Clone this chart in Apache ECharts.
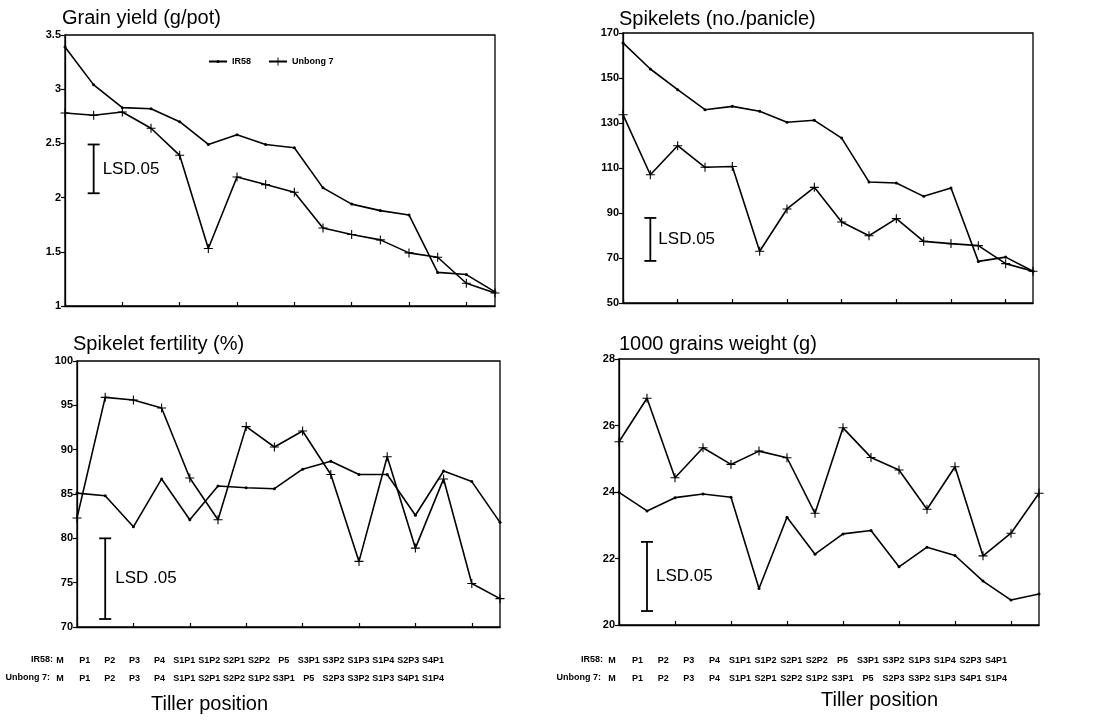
<!DOCTYPE html>
<html>
<head>
<meta charset="utf-8">
<script src="https://cdn.jsdelivr.net/npm/echarts@6/dist/echarts.min.js"></script>
<style>html,body{margin:0;padding:0;background:#fff;}#c{width:1099px;height:720px;}</style>
</head>
<body>
<div id="c"></div>
<script>
// ---- data ----
const tillerIR58 = ['M','P1','P2','P3','P4','S1P1','S1P2','S2P1','S2P2','P5','S3P1','S3P2','S1P3','S1P4','S2P3','S4P1'];
const tillerUnbong = ['M','P1','P2','P3','P4','S1P1','S2P1','S2P2','S1P2','S3P1','P5','S2P3','S3P2','S1P3','S4P1','S1P4'];
const seriesNames = ['IR58', 'Unbong 7'];

const yieldIR58 = [3.39,3.04,2.83,2.82,2.70,2.49,2.58,2.49,2.46,2.09,1.94,1.88,1.84,1.31,1.29,1.13];
const yieldUnbong = [2.78,2.76,2.79,2.64,2.39,1.53,2.19,2.12,2.05,1.72,1.66,1.61,1.49,1.45,1.21,1.12];
const spikeletsIR58 = [165.6,154,144.8,135.9,137.4,135.2,130.3,131.2,123.3,103.8,103.3,97.4,101.1,68.5,70.4,64.1];
const spikeletsUnbong = [133.7,107,119.9,110.3,110.7,73,91.8,101.4,86,79.9,87.5,77.4,76.4,75.5,67.5,64.1];
const fertilityIR58 = [85.1,84.8,81.3,86.7,82.1,85.9,85.7,85.6,87.8,88.7,87.2,87.2,82.6,87.6,86.4,81.8];
const fertilityUnbong = [82.3,95.9,95.6,94.7,86.8,82.1,92.6,90.3,92.1,87.2,77.4,89.2,78.9,86.7,74.9,73.2];
const grainWtIR58 = [23.99,23.43,23.83,23.94,23.84,21.1,23.24,22.13,22.74,22.84,21.75,22.34,22.09,21.32,20.75,20.93];
const grainWtUnbong = [25.51,26.82,24.43,25.33,24.83,25.23,25.03,23.36,25.93,25.04,24.66,23.48,24.76,22.08,22.76,23.96];

// LSD bars: [category index, low, high]
const lsdYield = [1, 2.04, 2.49];
const lsdSpikelets = [1, 68.7, 87.8];
const lsdFertility = [1, 70.9, 80.0];
const lsdGrainWt = [1, 20.42, 22.5];

const titles = ['Grain yield (g/pot)', 'Spikelets (no./panicle)', 'Spikelet fertility (%)', '1000 grains weight (g)'];
const yRanges = [[1, 3.5, 0.5], [50, 170, 20], [70, 100, 5], [20, 28, 2]];
const rowHeaders = ['IR58:', 'Unbong 7:'];
const xAxisTitle = 'Tiller position';

// ---- chart ----
const FONT = 'Liberation Sans, Arial, sans-serif';
const plusPath = 'path://M4.4,0H5.6V4.4H10V5.6H5.6V10H4.4V5.6H0V4.4H4.4Z';

const grids = [
  {left: 65, top: 35, width: 430, height: 271},
  {left: 623, top: 33, width: 410, height: 270},
  {left: 77, top: 361, width: 423, height: 266},
  {left: 619, top: 359, width: 420, height: 266},
  // label tables
  {left: 60, top: 651, width: 373, height: 1},
  {left: 612, top: 651, width: 384, height: 1}
];

const xAxes = [], yAxes = [];
for (let i = 0; i < 4; i++) {
  xAxes.push({
    gridIndex: i, type: 'category', data: tillerIR58, boundaryGap: false,
    axisLine: {lineStyle: {color: '#000', width: 1.3}},
    axisTick: {inside: true, length: 4, lineStyle: {color: '#000', width: 1.2}},
    axisLabel: {show: false}, splitLine: {show: false}
  });
  yAxes.push({
    gridIndex: i, type: 'value', min: yRanges[i][0], max: yRanges[i][1], interval: yRanges[i][2],
    axisLine: {show: true, lineStyle: {color: '#000', width: 1.3}},
    axisTick: {show: true, length: 4, lineStyle: {color: '#000', width: 1.2}},
    axisLabel: {color: '#000', fontSize: 11, fontWeight: 'bold', fontFamily: FONT, margin: 4},
    splitLine: {show: false}
  });
}
for (let g = 4; g < 6; g++) {
  xAxes.push({
    gridIndex: g, type: 'category', boundaryGap: false,
    data: tillerIR58.map((v, k) => v + '\n' + tillerUnbong[k]),
    axisLine: {show: false}, axisTick: {show: false},
    axisLabel: {interval: 0, color: '#000', fontSize: 9, fontWeight: 'bold', fontFamily: FONT, lineHeight: 18, margin: 0}
  });
  yAxes.push({gridIndex: g, type: 'value', show: false});
}

function lineSeries(name, gi, data) {
  const isIR = name === 'IR58';
  return {
    name: name, type: 'line', xAxisIndex: gi, yAxisIndex: gi, data: data,
    symbol: isIR ? 'circle' : plusPath, symbolSize: isIR ? 3 : 9,
    lineStyle: {color: '#000', width: 1.6}, itemStyle: {color: '#000'},
    animation: false
  };
}

function lsdSeries(gi, item, label, offset) {
  return {
    type: 'custom', xAxisIndex: gi, yAxisIndex: gi, data: [item], silent: true,
    encode: {x: 0, y: [1, 2]}, animation: false,
    renderItem: function (params, api) {
      const x = api.value(0);
      const top = api.coord([x, api.value(2)]);
      const bot = api.coord([x, api.value(1)]);
      const cap = 6, st = {stroke: '#000', lineWidth: 1.8};
      return {type: 'group', children: [
        {type: 'line', shape: {x1: top[0], y1: top[1], x2: bot[0], y2: bot[1]}, style: st},
        {type: 'line', shape: {x1: top[0] - cap, y1: top[1], x2: top[0] + cap, y2: top[1]}, style: st},
        {type: 'line', shape: {x1: bot[0] - cap, y1: bot[1], x2: bot[0] + cap, y2: bot[1]}, style: st},
        {type: 'text', x: top[0] + offset, y: (top[1] + bot[1]) / 2,
          style: {text: label, fill: '#000', fontSize: 17, fontFamily: FONT, verticalAlign: 'middle', align: 'left'}}
      ]};
    }
  };
}

const series = [
  lineSeries('IR58', 0, yieldIR58), lineSeries('Unbong 7', 0, yieldUnbong),
  lineSeries('IR58', 1, spikeletsIR58), lineSeries('Unbong 7', 1, spikeletsUnbong),
  lineSeries('IR58', 2, fertilityIR58), lineSeries('Unbong 7', 2, fertilityUnbong),
  lineSeries('IR58', 3, grainWtIR58), lineSeries('Unbong 7', 3, grainWtUnbong),
  lsdSeries(0, lsdYield, 'LSD.05', 9),
  lsdSeries(1, lsdSpikelets, 'LSD.05', 8),
  lsdSeries(2, lsdFertility, 'LSD .05', 10),
  lsdSeries(3, lsdGrainWt, 'LSD.05', 9)
];

const titlePos = [[62, 8], [619, 9], [73, 334], [619, 334]];
const titleStyle = {color: '#000', fontSize: 20, fontWeight: 'normal', fontFamily: FONT};
const legendText = {color: '#000', fontSize: 9, fontWeight: 'bold', fontFamily: FONT};
const smallBold = {fill: '#000', fontSize: 9, fontWeight: 'bold', fontFamily: FONT, align: 'right', verticalAlign: 'middle'};

const option = {
  backgroundColor: '#fff',
  animation: false,
  title: titles.map((t, i) => ({text: t, left: titlePos[i][0], top: titlePos[i][1], padding: 0, textStyle: titleStyle})),
  legend: [
    {left: 208, top: 57, itemWidth: 18, itemHeight: 4, padding: 0, itemGap: 0, data: [seriesNames[0]], textStyle: legendText},
    {left: 268, top: 57, itemWidth: 18, itemHeight: 10, padding: 0, itemGap: 0, data: [seriesNames[1]], textStyle: legendText}
  ],
  grid: grids.map((g, i) => Object.assign({show: i < 4, borderColor: '#000', borderWidth: 1.3, backgroundColor: 'transparent'}, g)),
  xAxis: xAxes,
  yAxis: yAxes,
  series: series,
  graphic: [
    {type: 'text', x: 53, y: 660, style: Object.assign({text: rowHeaders[0]}, smallBold)},
    {type: 'text', x: 50, y: 678, style: Object.assign({text: rowHeaders[1]}, smallBold)},
    {type: 'text', x: 603, y: 660, style: Object.assign({text: rowHeaders[0]}, smallBold)},
    {type: 'text', x: 601, y: 678, style: Object.assign({text: rowHeaders[1]}, smallBold)},
    {type: 'text', left: 151, top: 694, style: {text: xAxisTitle, fill: '#000', fontSize: 20, fontFamily: FONT}},
    {type: 'text', left: 821, top: 690, style: {text: xAxisTitle, fill: '#000', fontSize: 20, fontFamily: FONT}}
  ]
};

const chart = echarts.init(document.getElementById('c'), null, {renderer: 'canvas'});
chart.setOption(option);
</script>
</body>
</html>
